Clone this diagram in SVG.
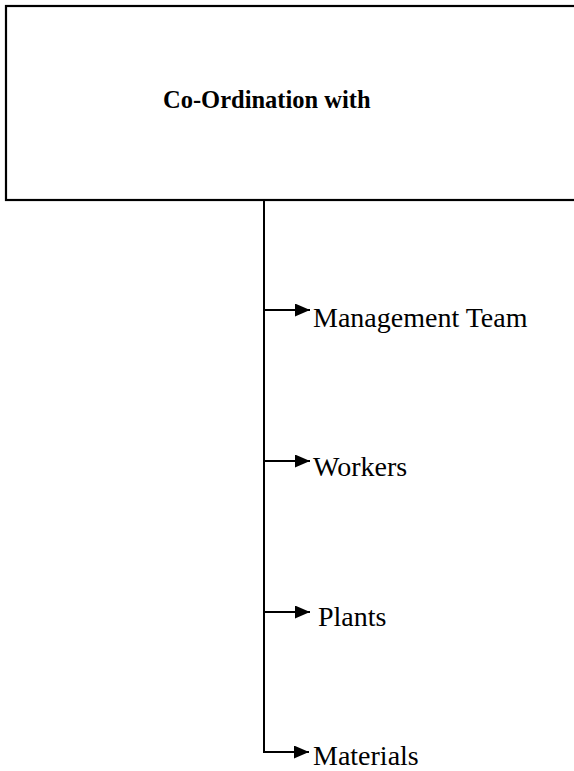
<svg xmlns="http://www.w3.org/2000/svg" width="574" height="771" viewBox="0 0 574 771">
<style>
.box{fill:#fff;stroke:#000;stroke-width:2.2}
.ln{fill:none;stroke:#000;stroke-width:2}
.title{font-family:"Liberation Serif","Times New Roman",serif;font-weight:bold;font-size:24.5px;fill:#000}
.lbl{font-family:"Liberation Serif","Times New Roman",serif;font-size:28px;fill:#000}
</style>
<defs>
<marker id="ah" markerUnits="userSpaceOnUse" markerWidth="18" markerHeight="16" refX="15" refY="6.5" orient="auto">
<path d="M0,0 L15,6.5 L0,13 Z" fill="#000"/>
</marker>
</defs>
<g id="root">
<rect class="box" x="6" y="6" width="600" height="194"/>
<text class="title" x="163" y="108">Co-Ordination with</text>
</g>
<g id="connectors">
<path class="ln" d="M264,200 V753"/>
<path class="ln" d="M264,310 H310" marker-end="url(#ah)"/>
<path class="ln" d="M264,461 H310" marker-end="url(#ah)"/>
<path class="ln" d="M264,612 H310" marker-end="url(#ah)"/>
<path class="ln" d="M263,752 H309" marker-end="url(#ah)"/>
</g>
<g id="n-management"><text class="lbl" x="313" y="327">Management Team</text></g>
<g id="n-workers"><text class="lbl" x="313" y="476">Workers</text></g>
<g id="n-plants"><text class="lbl" x="318" y="626">Plants</text></g>
<g id="n-materials"><text class="lbl" x="313" y="765">Materials</text></g>
</svg>
